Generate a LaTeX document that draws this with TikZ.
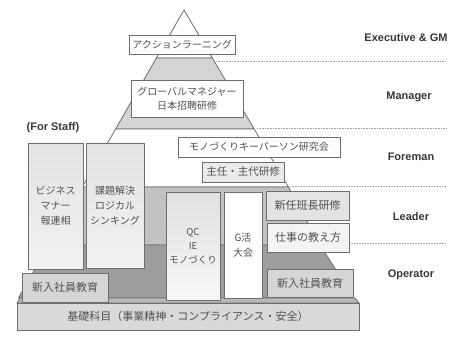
\documentclass[tikz,border=0pt]{standalone}
\usepackage{fontspec}
\newfontfamily\jp{Noto Sans CJK JP}
\newfontfamily\lab{Liberation Sans}
\definecolor{edge}{HTML}{6E6E6E}
\definecolor{txt}{HTML}{505050}
\definecolor{labc}{HTML}{383838}
\definecolor{bandM}{HTML}{D4D4D4}
\definecolor{bandL}{HTML}{C2C2C2}
\definecolor{bandO}{HTML}{9E9E9E}
\begin{document}
\begin{tikzpicture}[x=1pt,y=-1pt,
  pyr/.style={draw=edge, line width=0.8pt},
  box/.style={draw=edge, line width=0.8pt, inner sep=0pt, align=center, text=txt,
              font=\jp\fontsize{10}{15}\selectfont},
  lvl/.style={font=\lab\bfseries\fontsize{11}{13}\selectfont, text=labc},
  sep/.style={draw=gray!70, line width=0.6pt, densely dotted}]
\useasboundingbox (0,0) rectangle (452,341);
\fill[white] (0,0) rectangle (452,341);

% pyramid bands
\filldraw[pyr, fill=white] (184,10) -- (212.3,58) -- (156.4,58) -- cycle;
\filldraw[pyr, fill=bandM] (156.4,58) -- (212.3,58) -- (254.2,129) -- (115.6,129) -- cycle;
\filldraw[pyr, fill=white] (115.6,129) -- (254.2,129) -- (288.4,187) -- (82.2,187) -- cycle;
\filldraw[pyr, fill=bandL] (82.2,187) -- (288.4,187) -- (320,245) -- (48.5,245) -- cycle;
\filldraw[pyr, fill=bandO] (48.5,245) -- (320,245) -- (353.9,298) -- (18.4,298) -- cycle;

% separators
\coordinate (s1a) at (216,61);  \coordinate (s1b) at (446,61);
\coordinate (s2a) at (257,128); \coordinate (s2b) at (446,128);
\coordinate (s3a) at (290,186); \coordinate (s3b) at (446,186);
\coordinate (s4a) at (349,243); \coordinate (s4b) at (446,243);
\draw[sep] (s1a) -- (s1b);
\draw[sep] (s2a) -- (s2b);
\draw[sep] (s3a) -- (s3b);
\draw[sep] (s4a) -- (s4b);

% base
\filldraw[pyr, fill=gray!55] (20,298) -- (355,298) -- (359,303) -- (17,303) -- cycle;
\node[box, fill=gray!30, minimum width=342pt, minimum height=27pt,
      font=\jp\fontsize{11}{13}\selectfont] (base) at (188,316.5)
      {基礎科目（事業精神・コンプライアンス・安全）};

% boxes
\node[box, fill=white, minimum width=106pt, minimum height=19pt] (al) at (182,44.5) {アクションラーニング};
\node[box, fill=white, minimum width=112pt, minimum height=37pt, font=\jp\fontsize{10}{13.5}\selectfont] (gm) at (187,98.5) {グローバルマネジャー\\日本招聘研修};
\node[box, top color=gray!22, bottom color=gray!10, minimum width=55pt, minimum height=126pt] (biz) at (55.5,206) {ビジネス\\マナー\\報連相};
\node[box, top color=gray!22, bottom color=gray!10, minimum width=58pt, minimum height=125pt] (kadai) at (115,205.5) {課題解決\\ロジカル\\シンキング};
\node[box, fill=gray!32, minimum width=86pt, minimum height=29pt, font=\jp\fontsize{11}{13}\selectfont] (newl) at (65,287.5) {新入社員教育};
\node[box, fill=white, minimum width=162pt, minimum height=20pt] (mono) at (259,147) {モノづくりキーパーソン研究会};
\node[box, fill=gray!16, minimum width=82pt, minimum height=20pt, font=\jp\fontsize{10.5}{13}\selectfont] (shunin) at (243,172) {主任・主代研修};
\node[box, top color=gray!24, bottom color=gray!6, minimum width=54pt, minimum height=108pt, font=\jp\fontsize{9.5}{14}\selectfont] (qc) at (193,246) {QC\\IE\\モノづくり};
\node[box, fill=white, minimum width=38pt, minimum height=106pt] (g) at (243,245) {G活\\大会};
\node[box, fill=gray!22, minimum width=83pt, minimum height=29pt, font=\jp\fontsize{11}{13}\selectfont] (shinnin) at (307.5,205.5) {新任班長研修};
\node[box, fill=gray!9, minimum width=82pt, minimum height=29pt, font=\jp\fontsize{11}{13}\selectfont] (shigoto) at (308,237.5) {仕事の教え方};
\node[box, fill=gray!32, minimum width=86pt, minimum height=28pt, font=\jp\fontsize{11}{13}\selectfont] (newr) at (310,283) {新入社員教育};

% labels
\node[lvl] (staff) at (53,128) {(For Staff)};
\node[lvl] (exec) at (406,38) {Executive \& GM};
\node[lvl] (mgr) at (409,97) {Manager};
\node[lvl] (fore) at (411,157) {Foreman};
\node[lvl] (lead) at (411,217) {Leader};
\node[lvl] (oper) at (411,275) {Operator};
\end{tikzpicture}
\end{document}
